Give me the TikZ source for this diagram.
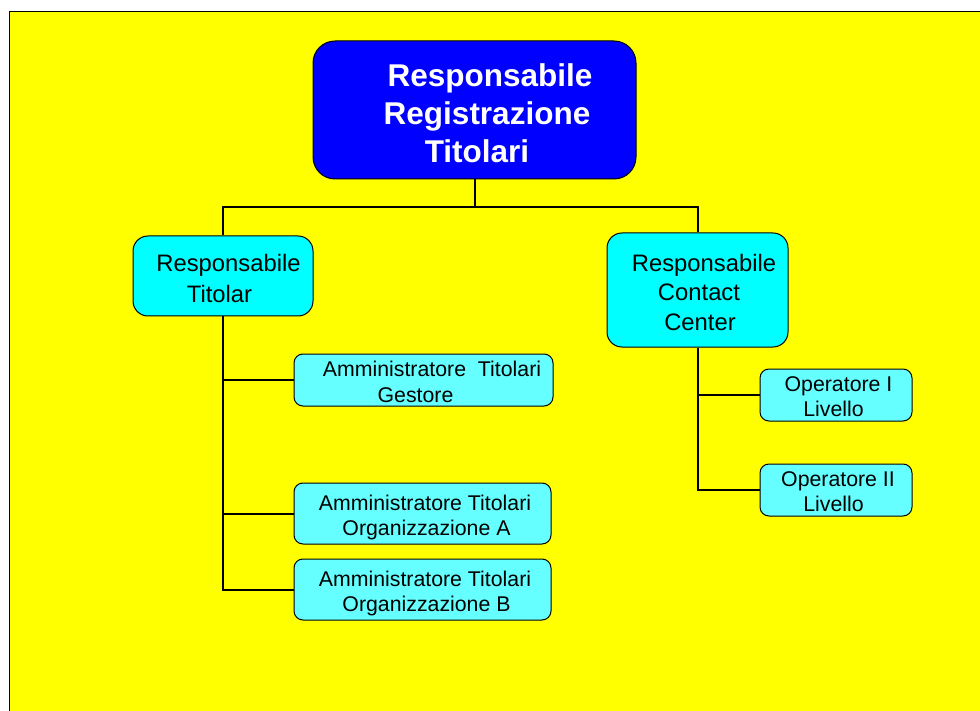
\documentclass[tikz,border=0pt]{standalone}
\usepackage{fontspec}
\setmainfont{Liberation Sans}
\definecolor{bgyellow}{RGB}{255,255,0}
\definecolor{rootblue}{RGB}{0,0,255}
\definecolor{midcyan}{RGB}{0,255,255}
\definecolor{lightcyan}{RGB}{102,255,255}
\tikzset{
  rootbox/.style={draw=black, line width=1pt, fill=rootblue, rounded corners=22pt, inner sep=0pt},
  midbox/.style={draw=black, line width=1pt, fill=midcyan, rounded corners=15pt, inner sep=0pt},
  smallbox/.style={draw=black, line width=1pt, fill=lightcyan, rounded corners=9pt, inner sep=0pt},
  roottxt/.style={anchor=base, inner sep=0pt, yshift=-1.5pt, text=white, font=\fontsize{31.5}{38}\selectfont\bfseries},
  midtxt/.style={anchor=base, inner sep=0pt, yshift=-1.5pt, text=black, font=\fontsize{23.8}{30}\selectfont},
  smalltxt/.style={anchor=base, inner sep=0pt, yshift=-1pt, text=black, font=\fontsize{21.3}{25}\selectfont},
  conn/.style={draw=black, line width=2pt}
}
\begin{document}
\begin{tikzpicture}[x=1pt,y=-1pt]
\useasboundingbox (0,0) rectangle (980,711);
\fill[bgyellow] (9,12) rectangle (980,711);
\draw[black, line width=1pt] (9,711) -- (9,12) -- (980,12);

% boxes
\node[rootbox, minimum width=323pt, minimum height=138pt] (root) at (474.5,110) {};
\node[midbox, minimum width=180pt, minimum height=80pt] (tit) at (223,276) {};
\node[midbox, minimum width=181pt, minimum height=114pt] (cc) at (697.5,290) {};
\node[smallbox, minimum width=259pt, minimum height=52pt] (gest) at (423.5,380) {};
\node[smallbox, minimum width=257pt, minimum height=61pt] (orga) at (422.5,513.5) {};
\node[smallbox, minimum width=257pt, minimum height=61pt] (orgb) at (422.5,589.5) {};
\node[smallbox, minimum width=152pt, minimum height=52pt] (op1) at (836,395) {};
\node[smallbox, minimum width=152pt, minimum height=52pt] (op2) at (836,490) {};

% connectors
\draw[conn] (root.south) -- ++(0,28) coordinate (split) -| (tit.north);
\draw[conn] (split) -| (cc.north);
\draw[conn] (tit.south) |- (gest.west);
\draw[conn] (tit.south) |- (orga.west);
\draw[conn] (tit.south) |- (orgb.west);
\draw[conn] (cc.south) |- (op1.west);
\draw[conn] (cc.south) |- (op2.west);

% texts
\node[roottxt] (r1) at (490,85) {Responsabile};
\node[roottxt] (r2) at (487,123) {Registrazione};
\node[roottxt] (r3) at (477,161) {Titolari};

\node[midtxt] (t1) at (228.5,270) {Responsabile};
\node[midtxt] (t2) at (219.5,301) {Titolar};

\node[midtxt] (c1) at (704,270) {Responsabile};
\node[midtxt] (c2) at (699,299) {Contact};
\node[midtxt] (c3) at (700,329) {Center};

\node[smalltxt] (g1) at (432,376) {Amministratore\ \ Titolari};
\node[smalltxt] (g2) at (415.5,401) {Gestore};

\node[smalltxt] (a1) at (425,509) {Amministratore Titolari};
\node[smalltxt] (a2) at (426.5,534) {Organizzazione A};

\node[smalltxt] (b1) at (425,585) {Amministratore Titolari};
\node[smalltxt] (b2) at (426.5,610) {Organizzazione B};

\node[smalltxt] (o1) at (838.5,390) {Operatore I};
\node[smalltxt] (o2) at (833.5,415) {Livello};
\node[smalltxt] (p1) at (838,485) {Operatore II};
\node[smalltxt] (p2) at (833.5,510) {Livello};
\end{tikzpicture}
\end{document}
